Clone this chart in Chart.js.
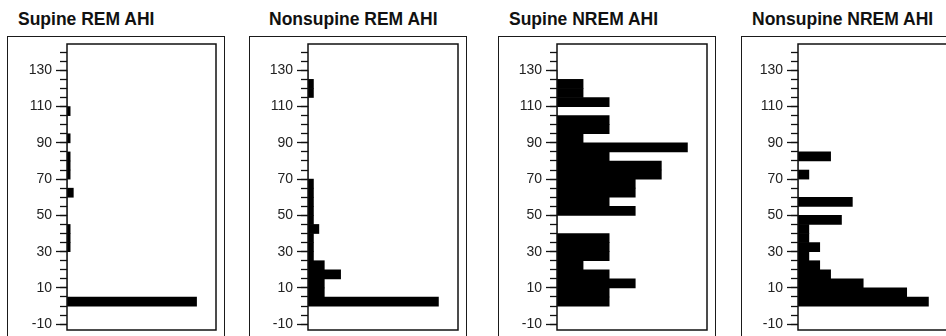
<!DOCTYPE html>
<html><head><meta charset="utf-8">
<script src="https://cdn.jsdelivr.net/npm/chart.js@4.4.1/dist/chart.umd.min.js"></script>
<style>
html,body{margin:0;padding:0;background:#fff;width:946px;height:336px;overflow:hidden;position:relative;}
.title{position:absolute;top:10px;font:bold 17.5px "Liberation Sans",Arial,Helvetica,sans-serif;line-height:18px;color:#111;white-space:nowrap;}
.frame{position:absolute;border:1.5px solid #1a1a1a;box-sizing:border-box;}
canvas{position:absolute;}
</style></head><body>
<script>
// Histogram bins (lower edge of each 5-unit AHI bin)
const binStarts = [0,5,10,15,20,25,30,35,40,45,50,55,60,65,70,75,80,85,90,95,100,105,110,115,120,125];
// Counts of patients per bin
const supineREM     = [41,0,0,0,0,0,1,1,1,0,0,0,2,0,1,1,1,0,1,0,0,1,0,0,0,0];
const nonsupineREM  = [24,3,3,6,3,1,1,1,2,1,1,1,1,1,0,0,0,0,0,0,0,0,0,1,1,0];
const supineNREM    = [2,2,3,2,1,2,2,2,0,0,3,2,3,3,4,4,2,5,1,2,2,0,2,1,1,0];
const nonsupineNREM = [12,10,6,3,2,1,2,1,1,4,0,5,0,0,1,0,3,0,0,0,0,0,0,0,0,0];
const panelTitles = ['Supine REM AHI','Nonsupine REM AHI','Supine NREM AHI','Nonsupine NREM AHI'];
const labeledTicks = [-10,10,30,50,70,90,110,130];
const yMin = -13.2, yMax = 144.5;

const seriesList = [supineREM, nonsupineREM, supineNREM, nonsupineNREM];
const layout = [
  {titleX:18,  frameL:7,   innerL:67,  innerR:216},
  {titleX:269, frameL:249, innerL:308, innerR:458},
  {titleX:509, frameL:498, innerL:557, innerR:707},
  {titleX:752, frameL:741, innerL:798, innerR:948}
];
const AXIS_W = 60, TOP = 44, PAD = 4, AREA_BOTTOM = 330;

const boxPlugin = {
  id:'boxPlugin',
  afterDraw(chart){
    const {ctx, chartArea:a} = chart;
    ctx.save();
    ctx.strokeStyle = '#111';
    ctx.lineWidth = 1.5;
    ctx.strokeRect(a.left, a.top, a.right - a.left, a.bottom - a.top);
    ctx.restore();
  }
};

const font = {family:'"Liberation Sans", Arial, Helvetica, sans-serif', size:14};
const binW = binStarts[1] - binStarts[0];
const noPad = (s) => { s.paddingTop = 0; s.paddingBottom = 0; s.paddingLeft = 0; s.paddingRight = 0; };

layout.forEach((L, i) => {
  const t = document.createElement('div');
  t.className = 'title';
  t.style.left = L.titleX + 'px';
  t.textContent = panelTitles[i];
  document.body.appendChild(t);

  const f = document.createElement('div');
  f.className = 'frame';
  f.style.left = L.frameL + 'px';
  f.style.top = '36px';
  f.style.width = (L.innerR + 9 - L.frameL) + 'px';
  f.style.height = '330px';
  document.body.appendChild(f);

  const cv = document.createElement('canvas');
  const w = AXIS_W + (L.innerR - L.innerL) + PAD;
  const h = AREA_BOTTOM - TOP + 2 * PAD;
  cv.width = w; cv.height = h;
  cv.style.width = w + 'px'; cv.style.height = h + 'px';
  cv.style.left = (L.innerL - AXIS_W) + 'px';
  cv.style.top = (TOP - PAD) + 'px';
  document.body.appendChild(cv);

  const counts = seriesList[i];
  new Chart(cv, {
    type:'bar',
    data:{datasets:[{
      data: binStarts.map((b, k) => ({x: counts[k], y: b + binW/2})),
      backgroundColor:'#000',
      borderWidth:0,
      barPercentage:1,
      categoryPercentage:1,
      yAxisID:'y'
    }]},
    options:{
      indexAxis:'y',
      responsive:false,
      animation:false,
      events:[],
      layout:{autoPadding:false, padding:{top:PAD, bottom:PAD, left:0, right:PAD}},
      plugins:{legend:{display:false}, tooltip:{enabled:false}},
      scales:{
        x:{type:'linear', min:0, max:Math.max(...counts)*1.15, display:false, offset:false},
        y:{
          type:'linear', position:'left', weight:1, min:yMin, max:yMax, offset:false,
          border:{display:false},
          grid:{offset:false, drawOnChartArea:false, drawTicks:true, tickLength:11, tickWidth:1.3,
                tickColor:(c)=> (c.tick && labeledTicks.includes(c.tick.value)) ? '#111' : 'rgba(0,0,0,0)'},
          ticks:{stepSize:10, autoSkip:false, includeBounds:false, padding:4, color:'#222', font,
                 callback:(v)=> labeledTicks.includes(v) ? String(v) : ''},
          afterFit:(s)=>{ s.width = AXIS_W; noPad(s); }
        },
        y2:{
          type:'linear', position:'left', weight:0, min:yMin, max:yMax, offset:false,
          border:{display:false},
          grid:{offset:false, drawOnChartArea:false, drawTicks:true, tickLength:7, tickWidth:1.3, tickColor:'#111'},
          ticks:{stepSize:5, autoSkip:false, includeBounds:false, display:false},
          afterFit:(s)=>{ s.width = 0; noPad(s); }
        }
      }
    },
    plugins:[boxPlugin]
  });
});
</script>
</body></html>
